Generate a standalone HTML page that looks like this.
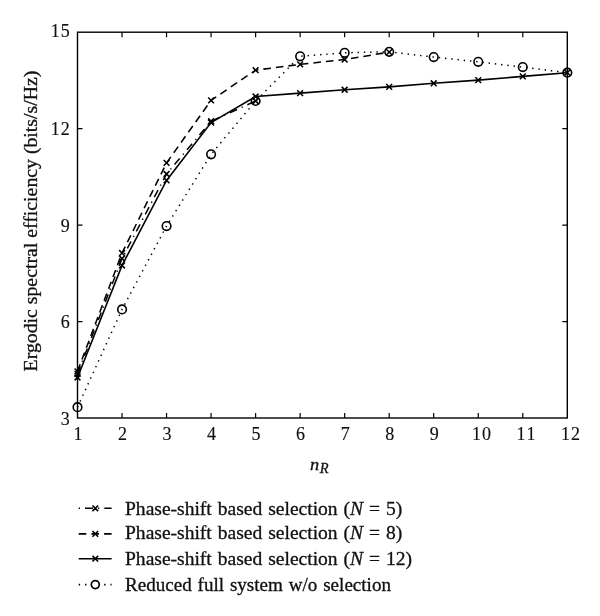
<!DOCTYPE html>
<html><head><meta charset="utf-8"><title>Ergodic spectral efficiency</title>
<style>
html,body{margin:0;padding:0;background:#fff}
body{width:600px;height:616px;position:relative;overflow:hidden;font-family:"Liberation Serif","DejaVu Serif",serif;color:#111}
.t{position:absolute;white-space:nowrap;line-height:1;font-size:18px;-webkit-text-stroke:0.3px #111}
.xt{transform:translateX(-50%);top:425.2px;-webkit-text-stroke-width:0.15px}
.yt{-webkit-text-stroke-width:0.15px;text-align:right;width:60px;left:9.7px}
.lg{left:125px;font-size:18px;-webkit-text-stroke:0.3px #111;transform:scaleX(1.085);transform-origin:0 50%;word-spacing:1.0px}
i{font-style:italic}
</style></head><body>
<svg width="600" height="616" viewBox="0 0 600 616" style="position:absolute;left:0;top:0">
<rect x="77.5" y="32.2" width="489.80" height="385.80" fill="none" stroke="#000" stroke-width="1.4"/>
<path d="M122.03 418.0V413.0M122.03 32.2V37.2M166.55 418.0V413.0M166.55 32.2V37.2M211.08 418.0V413.0M211.08 32.2V37.2M255.61 418.0V413.0M255.61 32.2V37.2M300.14 418.0V413.0M300.14 32.2V37.2M344.66 418.0V413.0M344.66 32.2V37.2M389.19 418.0V413.0M389.19 32.2V37.2M433.72 418.0V413.0M433.72 32.2V37.2M478.25 418.0V413.0M478.25 32.2V37.2M522.77 418.0V413.0M522.77 32.2V37.2M77.5 321.55H82.5M567.3 321.55H562.3M77.5 225.10H82.5M567.3 225.10H562.3M77.5 128.65H82.5M567.3 128.65H562.3" stroke="#000" stroke-width="1.2" fill="none"/>
<polyline points="77.50,407.20 122.03,309.40 166.55,226.06 211.08,154.37 255.61,101.00 300.14,56.31 344.66,52.78 389.19,51.81 433.72,57.08 478.25,61.78 522.77,67.11 567.30,72.71" fill="none" stroke="#000" stroke-width="1.5" stroke-dasharray="1.4 4.87" stroke-linecap="butt"/>
<polyline points="77.50,373.95 122.03,258.54 166.55,173.98 211.08,121.26 255.61,101.00" fill="none" stroke="#000" stroke-width="1.5" stroke-dasharray="8 5 1.3 5"/>
<polyline points="77.50,371.38 122.03,253.07 166.55,162.89 211.08,100.36 255.61,70.14 300.14,64.35 344.66,59.53 389.19,52.13" fill="none" stroke="#000" stroke-width="1.55" stroke-dasharray="7.6 5.0"/>
<polyline points="77.50,377.49 122.03,265.45 166.55,180.41 211.08,122.54 255.61,96.50 300.14,93.09 344.66,89.75 389.19,86.85 433.72,83.32 478.25,80.10 522.77,76.41 567.30,72.71" fill="none" stroke="#000" stroke-width="1.6"/>
<circle cx="77.50" cy="407.20" r="4.3" stroke="#000" stroke-width="1.6" fill="none"/>
<circle cx="122.03" cy="309.40" r="4.3" stroke="#000" stroke-width="1.6" fill="none"/>
<circle cx="166.55" cy="226.06" r="4.3" stroke="#000" stroke-width="1.6" fill="none"/>
<circle cx="211.08" cy="154.37" r="4.3" stroke="#000" stroke-width="1.6" fill="none"/>
<circle cx="255.61" cy="101.00" r="4.3" stroke="#000" stroke-width="1.6" fill="none"/>
<circle cx="300.14" cy="56.31" r="4.3" stroke="#000" stroke-width="1.6" fill="none"/>
<circle cx="344.66" cy="52.78" r="4.3" stroke="#000" stroke-width="1.6" fill="none"/>
<circle cx="389.19" cy="51.81" r="4.3" stroke="#000" stroke-width="1.6" fill="none"/>
<circle cx="433.72" cy="57.08" r="4.3" stroke="#000" stroke-width="1.6" fill="none"/>
<circle cx="478.25" cy="61.78" r="4.3" stroke="#000" stroke-width="1.6" fill="none"/>
<circle cx="522.77" cy="67.11" r="4.3" stroke="#000" stroke-width="1.6" fill="none"/>
<circle cx="567.30" cy="72.71" r="4.3" stroke="#000" stroke-width="1.6" fill="none"/>
<path d="M74.60 371.05L80.40 376.85M74.60 376.85L80.40 371.05" stroke="#000" stroke-width="1.55" fill="none"/>
<path d="M119.13 255.64L124.93 261.44M119.13 261.44L124.93 255.64" stroke="#000" stroke-width="1.55" fill="none"/>
<path d="M163.65 171.08L169.45 176.88M163.65 176.88L169.45 171.08" stroke="#000" stroke-width="1.55" fill="none"/>
<path d="M208.18 118.36L213.98 124.16M208.18 124.16L213.98 118.36" stroke="#000" stroke-width="1.55" fill="none"/>
<path d="M252.71 98.10L258.51 103.90M252.71 103.90L258.51 98.10" stroke="#000" stroke-width="1.55" fill="none"/>
<path d="M74.60 368.48L80.40 374.28M74.60 374.28L80.40 368.48" stroke="#000" stroke-width="1.55" fill="none"/>
<path d="M119.13 250.17L124.93 255.97M119.13 255.97L124.93 250.17" stroke="#000" stroke-width="1.55" fill="none"/>
<path d="M163.65 159.99L169.45 165.79M163.65 165.79L169.45 159.99" stroke="#000" stroke-width="1.55" fill="none"/>
<path d="M208.18 97.46L213.98 103.26M208.18 103.26L213.98 97.46" stroke="#000" stroke-width="1.55" fill="none"/>
<path d="M252.71 67.24L258.51 73.04M252.71 73.04L258.51 67.24" stroke="#000" stroke-width="1.55" fill="none"/>
<path d="M297.24 61.45L303.04 67.25M297.24 67.25L303.04 61.45" stroke="#000" stroke-width="1.55" fill="none"/>
<path d="M341.76 56.63L347.56 62.43M341.76 62.43L347.56 56.63" stroke="#000" stroke-width="1.55" fill="none"/>
<path d="M386.29 49.23L392.09 55.03M386.29 55.03L392.09 49.23" stroke="#000" stroke-width="1.55" fill="none"/>
<path d="M74.60 374.59L80.40 380.39M74.60 380.39L80.40 374.59" stroke="#000" stroke-width="1.55" fill="none"/>
<path d="M119.13 262.55L124.93 268.35M119.13 268.35L124.93 262.55" stroke="#000" stroke-width="1.55" fill="none"/>
<path d="M163.65 177.51L169.45 183.31M163.65 183.31L169.45 177.51" stroke="#000" stroke-width="1.55" fill="none"/>
<path d="M208.18 119.64L213.98 125.44M208.18 125.44L213.98 119.64" stroke="#000" stroke-width="1.55" fill="none"/>
<path d="M252.71 93.60L258.51 99.40M252.71 99.40L258.51 93.60" stroke="#000" stroke-width="1.55" fill="none"/>
<path d="M297.24 90.19L303.04 95.99M297.24 95.99L303.04 90.19" stroke="#000" stroke-width="1.55" fill="none"/>
<path d="M341.76 86.85L347.56 92.65M341.76 92.65L347.56 86.85" stroke="#000" stroke-width="1.55" fill="none"/>
<path d="M386.29 83.95L392.09 89.75M386.29 89.75L392.09 83.95" stroke="#000" stroke-width="1.55" fill="none"/>
<path d="M430.82 80.42L436.62 86.22M430.82 86.22L436.62 80.42" stroke="#000" stroke-width="1.55" fill="none"/>
<path d="M475.35 77.20L481.15 83.00M475.35 83.00L481.15 77.20" stroke="#000" stroke-width="1.55" fill="none"/>
<path d="M519.87 73.51L525.67 79.31M519.87 79.31L525.67 73.51" stroke="#000" stroke-width="1.55" fill="none"/>
<path d="M564.40 69.81L570.20 75.61M564.40 75.61L570.20 69.81" stroke="#000" stroke-width="1.55" fill="none"/>
<path d="M78.7 508.3H111.6" stroke="#000" stroke-width="1.6" stroke-dasharray="1.3 5 8 5"/>
<path d="M92.45 505.45L98.15 511.15M92.45 511.15L98.15 505.45" stroke="#000" stroke-width="1.6" fill="none"/>
<path d="M78.7 533.9H111.6" stroke="#000" stroke-width="1.65" stroke-dasharray="7.6 5.1"/>
<path d="M92.45 531.05L98.15 536.75M92.45 536.75L98.15 531.05" stroke="#000" stroke-width="1.6" fill="none"/>
<path d="M78.7 558.7H111.6" stroke="#000" stroke-width="1.65"/>
<path d="M92.45 555.85L98.15 561.55M92.45 561.55L98.15 555.85" stroke="#000" stroke-width="1.6" fill="none"/>
<path d="M78.7 584.6H111.6" stroke="#000" stroke-width="1.6" stroke-dasharray="1.4 4.95"/>
<circle cx="95.3" cy="584.6" r="4.0" stroke="#000" stroke-width="1.75" fill="#fff"/>
</svg>
<div class="t xt" style="left:78.0px">1</div>
<div class="t xt" style="left:122.5px">2</div>
<div class="t xt" style="left:167.1px">3</div>
<div class="t xt" style="left:211.6px">4</div>
<div class="t xt" style="left:256.1px">5</div>
<div class="t xt" style="left:300.6px">6</div>
<div class="t xt" style="left:345.2px">7</div>
<div class="t xt" style="left:389.7px">8</div>
<div class="t xt" style="left:434.2px">9</div>
<div class="t xt" style="left:481.4px"><span style="letter-spacing:1px">1</span>0</div>
<div class="t xt" style="left:526.0px"><span style="letter-spacing:1px">1</span>1</div>
<div class="t xt" style="left:570.5px"><span style="letter-spacing:1px">1</span>2</div>
<div class="t yt" style="top:409.6px">3</div>
<div class="t yt" style="top:313.2px">6</div>
<div class="t yt" style="top:216.7px">9</div>
<div class="t yt" style="top:120.2px"><span style="letter-spacing:1px">1</span>2</div>
<div class="t yt" style="top:21.8px"><span style="letter-spacing:1px">1</span>5</div>
<div class="t" id="yl" style="left:30.8px;top:220.9px;transform:translate(-50%,-50%) rotate(-90deg) scaleX(1.099);font-size:18px">Ergodic spectral efficiency (bits/s/Hz)</div>
<div class="t" id="xl" style="left:309.5px;top:455.8px;font-size:17px;transform:scaleX(1.08);transform-origin:0 50%"><i>n</i></div>
<div class="t" id="xr" style="left:319.8px;top:460.7px;font-size:14.5px"><i>R</i></div>
<div class="t lg" id="lg0" style="top:499.6px">Phase-shift based selection (<i>N</i> = 5)</div>
<div class="t lg" id="lg1" style="top:523.9px">Phase-shift based selection (<i>N</i> = 8)</div>
<div class="t lg" id="lg2" style="top:549.9px">Phase-shift based selection (<i>N</i> = 12)</div>
<div class="t lg" id="lg3" style="top:575.6px;transform:scaleX(1.06)">Reduced full system w/o selection</div>
</body></html>
